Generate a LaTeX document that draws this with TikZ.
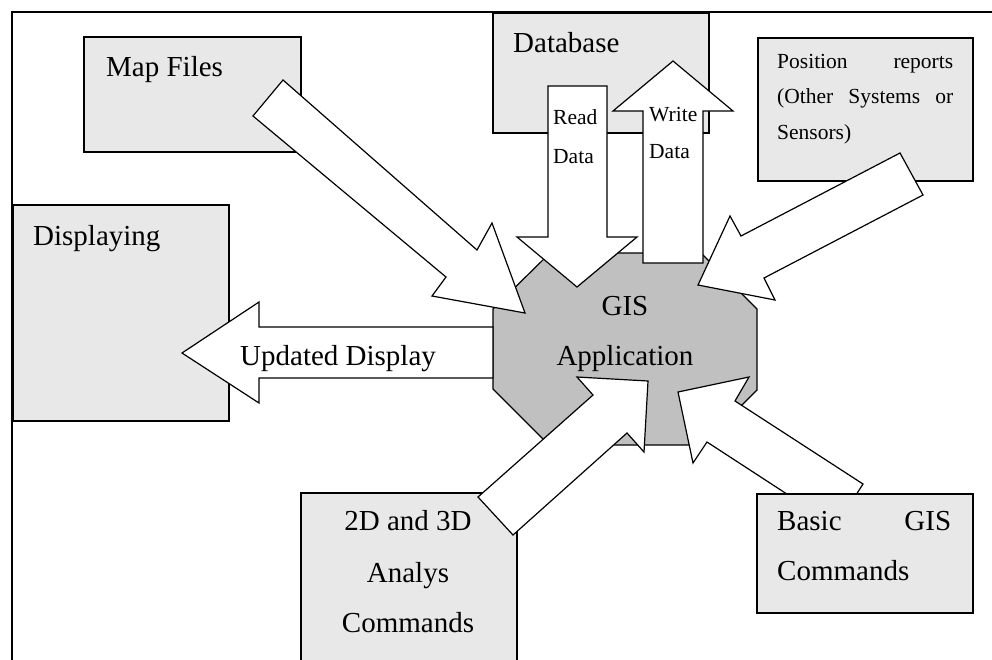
\documentclass[tikz,border=0pt]{standalone}
\usepackage{fontspec}
\setmainfont{Liberation Serif}
\definecolor{panelgrey}{RGB}{232,232,232}
\definecolor{coregrey}{RGB}{192,192,192}
\tikzset{
  panel/.style={draw=black, fill=panelgrey, line width=1.2pt, inner sep=0pt,
    outer sep=0pt, anchor=north west},
  blockarrow/.style={draw=black, fill=white, line width=1.2pt, line join=miter},
  bigtext/.style={inner sep=0pt, anchor=base west, font=\fontsize{29}{35}\selectfont},
  smalltext/.style={inner sep=0pt, anchor=base west, font=\fontsize{21.5}{26}\selectfont},
}
\begin{document}
\begin{tikzpicture}[x=1pt,y=-1pt]
\useasboundingbox (0,0) rectangle (992,659);
\clip (0,0) rectangle (992,659);

% frame (left and top rules)
\draw[line width=2pt] (12,720) -- (12,12) -- (1010,12);

% source / sink boxes
\node[panel, minimum width=217pt, minimum height=115pt] (mapfiles) at (84,37) {};
\node[panel, minimum width=216pt, minimum height=120pt] (database) at (493,13) {};
\node[panel, minimum width=215pt, minimum height=143pt] (position) at (758,38) {};
\node[panel, minimum width=216pt, minimum height=216pt] (displaying) at (13,205) {};
\node[panel, minimum width=216pt, minimum height=240pt] (analysis) at (301,493) {};

% GIS application core
\draw[fill=coregrey, line width=1.2pt, line join=miter]
  (550,253) -- (701,253) -- (757,309) -- (757,390) -- (702,445)
  -- (549,445) -- (493,389) -- (493,309) -- cycle;
\node[inner sep=0pt] (gis) at (625,349) {};

% basic commands arrow sits under its box
\draw[blockarrow] (836,526) -- (707,442) -- (693,463) -- (678,392)
  -- (749,377) -- (735,401) -- (863,484) -- cycle;
\node[panel, minimum width=216pt, minimum height=119pt] (basic) at (757,494) {};

% block arrows
\draw[blockarrow] (283,80) -- (477,250) -- (492,223) -- (525,313)
  -- (432,296) -- (446,277) -- (253,116) -- cycle;
\draw[blockarrow] (548,86) -- (607,86) -- (607,237) -- (637,237)
  -- (577,287) -- (517,237) -- (548,237) -- cycle;
\draw[blockarrow] (643,263) -- (643,111) -- (613,111) -- (673,61)
  -- (733,111) -- (703,111) -- (703,263) -- cycle;
\draw[blockarrow] (900,153) -- (923,195) -- (764,278) -- (775,300)
  -- (698,285) -- (730,216) -- (741,236) -- cycle;
\draw[blockarrow] (493,327) -- (259,327) -- (259,302) -- (182,353)
  -- (259,403) -- (259,378) -- (493,378) -- cycle;
\draw[blockarrow] (478,497) -- (593,395) -- (577,377) -- (648,381)
  -- (644,452) -- (627,433) -- (513,535) -- cycle;

% box texts
\node[bigtext] (t-map) at (106,76) {Map Files};
\node[bigtext] (t-db) at (513,52) {Database};
\node[bigtext] (t-disp) at (33,245) {Displaying};
\node[smalltext] (t-pos1) at (777,68) {\makebox[176pt][s]{Position reports}};
\node[smalltext] (t-pos2) at (777,103) {\makebox[176pt][s]{(Other Systems or}};
\node[smalltext] (t-pos3) at (777,139) {Sensors)};
\node[bigtext, anchor=base] (t-an1) at (408,530) {2D and 3D};
\node[bigtext, anchor=base] (t-an2) at (408,582) {Analys};
\node[bigtext, anchor=base] (t-an3) at (408,632) {Commands};
\node[bigtext] (t-basic1) at (777,530) {\makebox[174pt][s]{Basic GIS}};
\node[bigtext] (t-basic2) at (777,580) {Commands};
\node[bigtext, anchor=base] (t-gis1) at (625,315) {GIS};
\node[bigtext, anchor=base] (t-gis2) at (625,365) {Application};

% arrow texts
\node[bigtext] (t-upd) at (240,365) {Updated Display};
\node[smalltext] (t-read1) at (553,124) {Read};
\node[smalltext] (t-read2) at (553,163) {Data};
\node[smalltext] (t-write1) at (649,121) {Write};
\node[smalltext] (t-write2) at (649,158) {Data};
\end{tikzpicture}
\end{document}
